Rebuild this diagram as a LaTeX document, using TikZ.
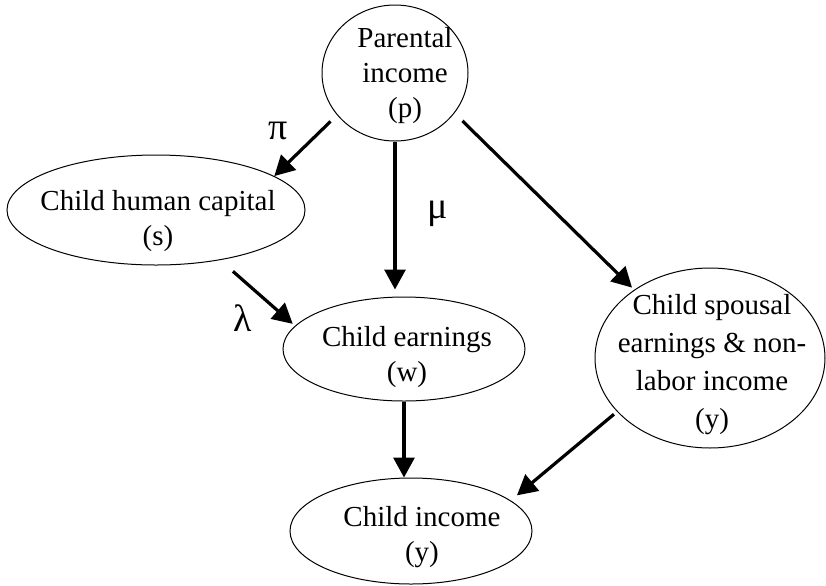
\documentclass[tikz,border=0pt]{standalone}
\usepackage{fontspec}
\setmainfont{Liberation Serif}
\usetikzlibrary{shapes.geometric,arrows.meta}
\begin{document}
\begin{tikzpicture}[x=0.5pt,y=-0.5pt,
  bubble/.style={draw, ellipse, line width=0.5pt, inner sep=0pt},
  txt/.style={align=center, font=\fontsize{14.5}{17.5}\selectfont, inner sep=0pt},
  greek/.style={font=\fontsize{19}{22}\selectfont, inner sep=0pt},
  arr/.style={line width=1.6pt, -{Triangle[length=10pt,width=10.5pt]}}]
\path[use as bounding box, fill=white] (0,0) rectangle (826,585);
% ellipses
\node[bubble, minimum width=73pt, minimum height=68pt] (p) at (395,73) {};
\node[bubble, minimum width=149pt, minimum height=55pt] (s) at (156,210) {};
\node[bubble, minimum width=121pt, minimum height=52pt] (w) at (404,349) {};
\node[bubble, minimum width=115pt, minimum height=90pt] (sp) at (710,358) {};
\node[bubble, minimum width=121pt, minimum height=53pt] (y) at (411,531) {};
% texts
\node[txt] (tp) at (405,76) {Parental\\income\\(p)};
\node[txt] (ts) at (158,221) {Child human capital\\(s)};
\node[txt] (tw) at (407,357) {Child earnings\\(w)};
\node[txt, font=\fontsize{14.5}{19}\selectfont] (tsp) at (712,365) {Child spousal\\earnings \& non-\\labor income\\(y)};
\node[txt] (ty) at (422,537) {Child income\\(y)};
% arrows
\draw[arr, shorten <=4.5pt] (p.216) -- (s.16);
\draw[arr, shorten >=3.5pt] (p.south) -- (p.south |- w.north);
\draw[arr, shorten <=5.5pt, shorten >=1.5pt] (p.-34) -- (sp.138);
\draw[arr, shorten <=8.5pt, shorten >=1.5pt] (s.-38) -- (w.168);
\draw[arr] (w.south) -- (w.south |- y.north);
\draw[arr, shorten <=2pt, shorten >=4pt] (sp.210) -- (y.17);
% labels
\node[greek] (lpi) at (278,131) {π};
\node[greek] (lmu) at (438,214) {μ};
\node[greek] (llam) at (243,318) {λ};
\end{tikzpicture}
\end{document}
